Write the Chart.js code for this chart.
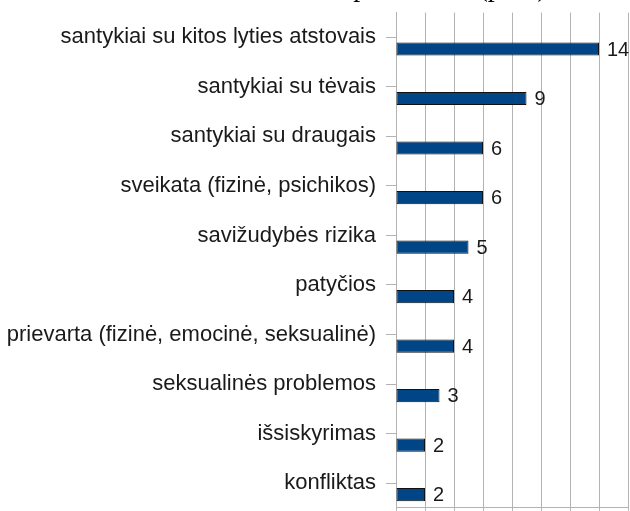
<!DOCTYPE html>
<html>
<head>
<meta charset="utf-8">
<script src="https://cdn.jsdelivr.net/npm/chart.js@4"></script>
<style>
  html, body { margin: 0; padding: 0; background: #fff; overflow: hidden; }
  #topicsChart { display: block; margin-top: -28px; }
</style>
</head>
<body>
<canvas id="topicsChart" width="630" height="559"></canvas>
<script>
// kategorijos ir reikšmės (proc)
const categories = [
  'santykiai su kitos lyties atstovais',
  'santykiai su tėvais',
  'santykiai su draugais',
  'sveikata (fizinė, psichikos)',
  'savižudybės rizika',
  'patyčios',
  'prievarta (fizinė, emocinė, seksualinė)',
  'seksualinės problemos',
  'išsiskyrimas',
  'konfliktas'
]
const values = [14, 9, 6, 6, 5, 4, 4, 3, 2, 2]
// tuščia serija - originale juostos pasislinkusios žemyn
const emptySeries = [null, null, null, null, null, null, null, null, null, null]
const xMin = 0
const xMax = 16
const xStep = 2
const titleText = 'Dažniausios skambučio problemos (proc)'

const gridColor = '#b3b3b3'

// reikšmių užrašai šalia juostų
const valueLabels = {
  id: 'valueLabels',
  afterDatasetsDraw(chart) {
    const ctx = chart.ctx
    const meta = chart.getDatasetMeta(1)
    ctx.save()
    ctx.font = '20px "Liberation Sans", Arial, sans-serif'
    ctx.fillStyle = '#1a1a1a'
    ctx.textBaseline = 'middle'
    ctx.textAlign = 'left'
    meta.data.forEach((bar, i) => {
      ctx.fillText(String(values[i]), bar.x + 8, bar.y + 1)
    })
    ctx.restore()
  }
}

const ctx = document.getElementById('topicsChart').getContext('2d')

new Chart(ctx, {
  type: 'bar',
  data: {
    labels: categories,
    datasets: [{
      label: 'tuščia',
      data: emptySeries,
      backgroundColor: 'rgba(0,0,0,0)'
    },
    {
      label: 'proc',
      data: values,
      backgroundColor: '#004586',
      borderColor: '#111111',
      borderWidth: 1,
      borderSkipped: false
    }]
  },
  options: {
    indexAxis: 'y',
    responsive: false,
    animation: false,
    categoryPercentage: 0.94,
    barPercentage: 0.565,
    layout: {
      padding: { left: 0, right: 2, top: 0, bottom: 0 }
    },
    scales: {
      x: {
        min: xMin,
        max: xMax,
        ticks: { stepSize: xStep, display: false },
        grid: { color: gridColor, tickLength: 3 },
        border: { color: gridColor },
        afterFit: function(scale) {
          scale.height = 3
        }
      },
      y: {
        grid: {
          offset: false,
          drawOnChartArea: false,
          color: gridColor,
          tickLength: 10
        },
        border: { color: gridColor },
        ticks: {
          color: '#1a1a1a',
          padding: 10,
          font: { family: '"Liberation Sans", Arial, sans-serif', size: 22 }
        },
        afterFit: function(scale) {
          scale.width = 396
        }
      }
    },
    plugins: {
      legend: { display: false },
      tooltip: { enabled: false },
      title: {
        display: true,
        text: titleText,
        color: '#000000',
        padding: { top: 0, bottom: 7 },
        font: { family: '"Liberation Serif", "Times New Roman", serif', size: 28, weight: 'normal' }
      }
    }
  },
  plugins: [valueLabels]
})
</script>
</body>
</html>
